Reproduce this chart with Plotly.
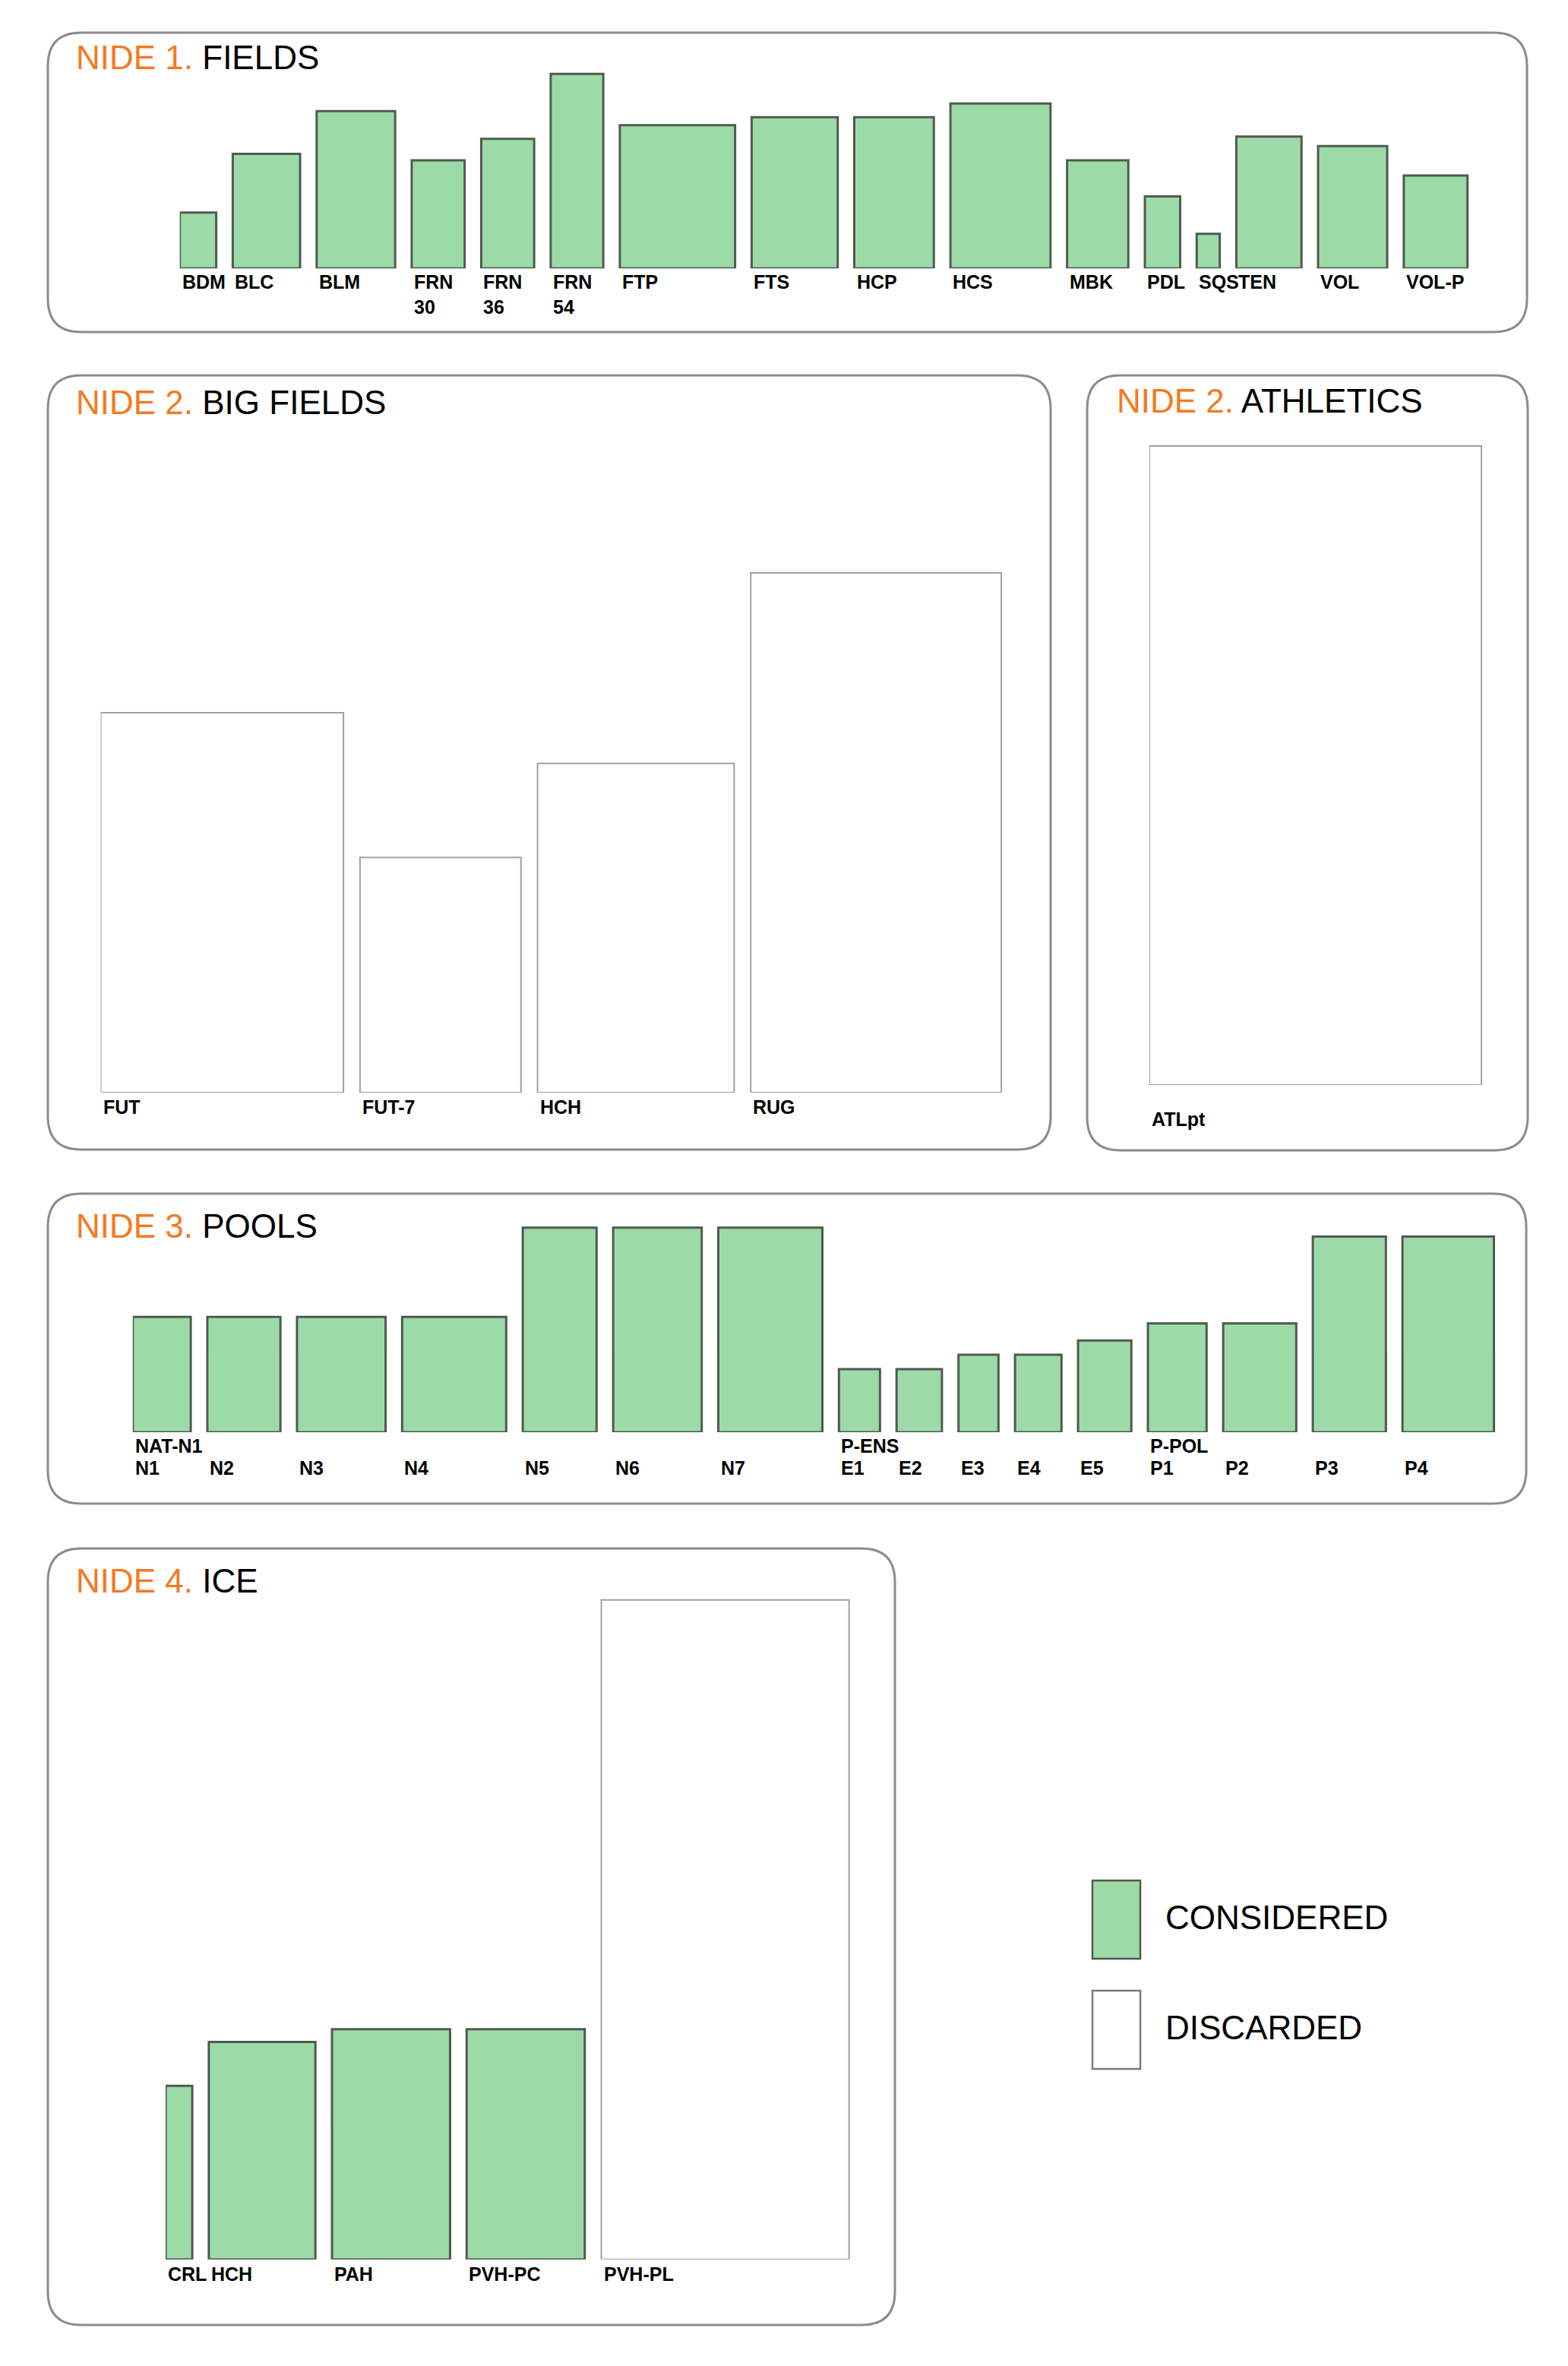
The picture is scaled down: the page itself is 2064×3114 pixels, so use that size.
import plotly.graph_objects as go

# ---- data: field footprint (width x length, metres) per sport facility ----
fields_labels = ["BDM", "BLC", "BLM", "FRN<br>30", "FRN<br>36", "FRN<br>54", "FTP", "FTS",
                 "HCP", "HCS", "MBK", "PDL", "SQS", "TEN", "VOL", "VOL-P"]
fields_width = [10.1, 18.7, 21.8, 14.7, 14.7, 14.6, 32.0, 23.9, 22.1, 27.8, 17.0, 9.8, 6.4, 18.1, 19.2, 17.7]
fields_length = [15.5, 31.8, 43.7, 30.0, 36.0, 54.0, 39.8, 42.0, 42.0, 45.8, 30.0, 20.0, 9.6, 36.6, 34.0, 25.8]
fields_status = ["CONSIDERED"] * 16

big_labels = ["FUT", "FUT-7", "HCH", "RUG"]
big_width = [67.4, 44.7, 54.6, 69.6]
big_length = [105.5, 65.3, 91.4, 144.3]
big_status = ["DISCARDED"] * 4

athl_labels = ["ATLpt"]
athl_width = [92.2]
athl_length = [177.4]
athl_status = ["DISCARDED"]

pools_labels = ["N1", "N2", "N3", "N4", "N5", "N6", "N7", "E1", "E2", "E3", "E4", "E5",
                "P1", "P2", "P3", "P4"]
pools_group = ["NAT-N1", "", "", "", "", "", "", "P-ENS", "", "", "", "", "P-POL", "", "", ""]
pools_width = [16.1, 20.3, 24.6, 28.9, 20.5, 24.6, 28.9, 11.4, 12.6, 11.1, 12.9, 14.8, 16.3, 20.3, 20.3, 25.4]
pools_length = [32.0, 32.0, 32.0, 32.0, 56.8, 56.8, 56.8, 17.5, 17.5, 21.5, 21.5, 25.5, 30.2, 30.2, 54.3, 54.3]
pools_status = ["CONSIDERED"] * 16

ice_labels = ["CRL", "HCH", "PAH", "PVH-PC", "PVH-PL"]
ice_width = [7.4, 29.6, 32.8, 32.8, 68.8]
ice_length = [48.2, 60.4, 63.9, 63.9, 183.1]
ice_status = ["CONSIDERED", "CONSIDERED", "CONSIDERED", "CONSIDERED", "DISCARDED"]

# ---- style ----
PAGE_MARGIN = 8  # default body margin of the html page
W, H = 2064 - 2 * PAGE_MARGIN, 3114 - 2 * PAGE_MARGIN
PX_PER_M = 4.74
GAP = 4.6
FONT = "Arial, Liberation Sans, sans-serif"
ORANGE = "#F47A20"
GREEN = "#9CDBA7"
GREEN_LINE = "#4f5a51"
WHITE_LINE = "#a0a0a0"
PANEL_LINE = "#8c8c8c"
FILL = {"CONSIDERED": GREEN, "DISCARDED": "white"}
EDGE = {"CONSIDERED": GREEN_LINE, "DISCARDED": WHITE_LINE}
EDGE_W = {"CONSIDERED": 3, "DISCARDED": 2}


def px_x(v):
    return (v - PAGE_MARGIN) / W


def px_y(v):
    return 1 - (v - PAGE_MARGIN) / H


fig = go.Figure()


def add_panel(n, labels, widths, lengths, status, x0, base, top, x1, label_shift, groups=None):
    lefts, cur = [], 0.0
    for w in widths:
        lefts.append(cur)
        cur += w + GAP
    centers = [l + w / 2 for l, w in zip(lefts, widths)]
    suffix = "" if n == 1 else str(n)
    fig.add_trace(go.Bar(
        x=centers, y=lengths, width=widths,
        marker=dict(color=[FILL[s] for s in status],
                    line=dict(color=[EDGE[s] for s in status], width=[EDGE_W[s] for s in status])),
        xaxis="x" + suffix, yaxis="y" + suffix, cliponaxis=False,
        showlegend=False, hoverinfo="skip",
    ))
    fig.update_layout(**{
        "xaxis" + suffix: dict(domain=[px_x(x0), px_x(x1)], range=[0, (x1 - x0) / PX_PER_M],
                               visible=False, fixedrange=True, anchor="y" + suffix),
        "yaxis" + suffix: dict(domain=[px_y(base), px_y(top)], range=[0, (base - top) / PX_PER_M],
                               visible=False, fixedrange=True, anchor="x" + suffix),
    })
    for i, (lab, l) in enumerate(zip(labels, lefts)):
        fig.add_annotation(x=l, y=0, xref="x" + suffix, yref="y" + suffix, text="<b>" + lab + "</b>",
                           showarrow=False, xanchor="left", yanchor="top", align="left",
                           xshift=1, yshift=label_shift,
                           font=dict(family=FONT, size=25, color="black"))
        if groups and groups[i]:
            fig.add_annotation(x=l, y=0, xref="x" + suffix, yref="y" + suffix, text="<b>" + groups[i] + "</b>",
                               showarrow=False, xanchor="left", yanchor="top",
                               xshift=1, yshift=-2,
                               font=dict(family=FONT, size=25, color="black"))


def rounded_box(x0, y0, x1, y1, r=44):
    rx, ry = r, r
    p = (f"M {px_x(x0 + rx)},{px_y(y0)} L {px_x(x1 - rx)},{px_y(y0)} "
         f"Q {px_x(x1)},{px_y(y0)} {px_x(x1)},{px_y(y0 + ry)} "
         f"L {px_x(x1)},{px_y(y1 - ry)} Q {px_x(x1)},{px_y(y1)} {px_x(x1 - rx)},{px_y(y1)} "
         f"L {px_x(x0 + rx)},{px_y(y1)} Q {px_x(x0)},{px_y(y1)} {px_x(x0)},{px_y(y1 - ry)} "
         f"L {px_x(x0)},{px_y(y0 + ry)} Q {px_x(x0)},{px_y(y0)} {px_x(x0 + rx)},{px_y(y0)} Z")
    fig.add_shape(type="path", path=p, xref="paper", yref="paper",
                  line=dict(color=PANEL_LINE, width=3), fillcolor="rgba(0,0,0,0)", layer="below")


def panel_title(x, y, num, name):
    fig.add_annotation(x=px_x(x), y=px_y(y), xref="paper", yref="paper", showarrow=False,
                       xanchor="left", yanchor="middle",
                       text=f"<span style='color:{ORANGE}'>NIDE {num}.</span> {name}",
                       font=dict(family=FONT, size=44, color="black"))


# panels
rounded_box(63, 43, 2010, 437)
rounded_box(63, 494, 1383, 1513)
rounded_box(1431, 494, 2011, 1514)
rounded_box(63, 1571, 2009, 1979)
rounded_box(63, 2038, 1178, 3060)

panel_title(98, 76, 1, "FIELDS")
panel_title(98, 530, 2, "BIG FIELDS")
panel_title(1468, 528, 2, "ATHLETICS")
panel_title(98, 1613, 3, "POOLS")
panel_title(98, 2080, 4, "ICE")

add_panel(1, fields_labels, fields_width, fields_length, fields_status, 236.7, 353.3, 60, 2000, -2)
add_panel(2, big_labels, big_width, big_length, big_status, 132.6, 1438, 560, 1370, -3)
add_panel(3, athl_labels, athl_width, athl_length, athl_status, 1513, 1428, 560, 2000, -29)
add_panel(4, pools_labels, pools_width, pools_length, pools_status, 174.8, 1885, 1590, 2000, -31, pools_group)
add_panel(5, ice_labels, ice_width, ice_length, ice_status, 218, 2973.7, 2090, 1170, -3)

# legend
legend_items = ["CONSIDERED", "DISCARDED"]
for i, item in enumerate(legend_items):
    y0 = 2475 + i * 145
    fig.add_shape(type="rect", xref="paper", yref="paper",
                  x0=px_x(1438), x1=px_x(1501), y0=px_y(y0), y1=px_y(y0 + 103),
                  fillcolor=FILL[item], line=dict(color=EDGE[item] if item == "CONSIDERED" else "#7a7a7a", width=2.5))
    fig.add_annotation(x=px_x(1532), y=px_y(y0 + 48), xref="paper", yref="paper", showarrow=False,
                       xanchor="left", yanchor="middle", text=item,
                       font=dict(family=FONT, size=44, color="black"))

fig.update_layout(
    width=W, height=H,
    margin=dict(l=0, r=0, t=0, b=0),
    paper_bgcolor="white", plot_bgcolor="white",
    showlegend=False,
)

fig.write_html("out.html")
